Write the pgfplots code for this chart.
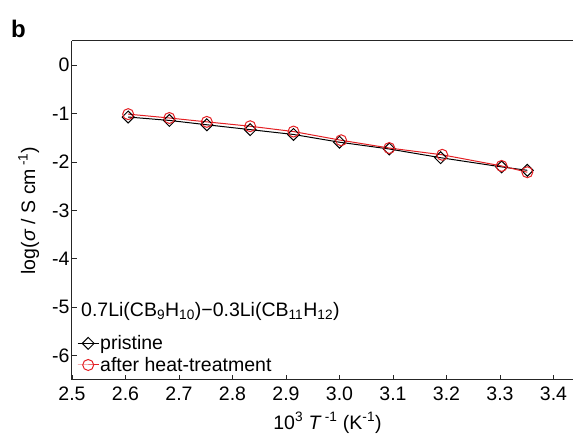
\documentclass[border=0pt]{standalone}
\usepackage{fontspec}
\setmainfont{Liberation Sans}
\usepackage{pgfplots}
\pgfplotsset{compat=1.18}

\definecolor{heat}{RGB}{228,32,36}

\newcommand{\chartfont}{\fontsize{19.5}{22}\selectfont}

\begin{document}
\begin{tikzpicture}
\begin{axis}[
  name=ax,
  scale only axis,
  width=501pt, height=339pt,
  xmin=2.5, xmax=3.4364,
  ymin=-6.5, ymax=0.5,
  axis x line*=bottom,
  axis y line*=left,
  axis line style={line width=1pt, black!85},
  tick align=inside,
  major tick length=5pt,
  tick style={line width=0.9pt, black!85},
  xtick={2.5,2.6,...,3.41},
  ytick={-6,-5,...,0},
  /pgf/number format/assume math mode=true,
  xticklabel={\pgfmathprintnumber[fixed,fixed zerofill,precision=1]{\tick}},
  yticklabel={\pgfmathprintnumber[fixed,precision=0]{\tick}},
  ticklabel style={font=\chartfont},
  xticklabel style={yshift=-3pt},
  yticklabel style={xshift=1pt},
  label style={font=\chartfont},
  xlabel={10\textsuperscript{3} \textit{T}\,\textsuperscript{-1} (K\textsuperscript{-1})},
  ylabel={log(\textit{σ} / S cm\,\textsuperscript{-1})},
  xlabel style={yshift=-5pt, xshift=5pt},
  ylabel style={yshift=6pt},
  legend style={draw=none, fill=none, at={(0,0)}, anchor=south west,
    xshift=5pt, yshift=6pt, font=\chartfont, row sep=4pt, inner sep=0pt,
    nodes={inner sep=1pt}},
  legend cell align=left,
  legend image code/.code={%
    \draw[mark repeat=2,mark phase=2,#1] plot coordinates {(0pt,0pt) (10.5pt,0pt) (21pt,0pt)};},
]
% upper frame line (no right-hand spine)
\draw[line width=1pt, black!85] (rel axis cs:0,1) -- (rel axis cs:1,1);

\addplot[black, line width=1pt, mark=square, mark size=4.2pt,
  mark options={rotate=45, line width=1pt, fill=none}]
  coordinates {
  (2.605,-1.07) (2.682,-1.14) (2.752,-1.23) (2.833,-1.33) (2.914,-1.43)
  (3.000,-1.59) (3.093,-1.73) (3.189,-1.91) (3.303,-2.10) (3.351,-2.17)};
\addlegendentry{pristine}

\addplot[heat, line width=1pt, mark=o, mark size=5.5pt,
  mark options={line width=1pt, fill=none}]
  coordinates {
  (2.605,-1.01) (2.682,-1.09) (2.752,-1.17) (2.833,-1.26) (2.914,-1.37)
  (3.003,-1.55) (3.093,-1.71) (3.192,-1.85) (3.303,-2.08) (3.351,-2.21)};
\addlegendentry{after heat-treatment}
\end{axis}

\node[anchor=west, font=\chartfont, inner sep=0pt] at ([xshift=9pt,yshift=69pt]ax.south west)
  {0.7Li(CB\textsubscript{9}H\textsubscript{10})−0.3Li(CB\textsubscript{11}H\textsubscript{12})};
\node[anchor=west, font=\fontsize{24}{27}\selectfont\bfseries, inner sep=0pt] at ([xshift=-61pt,yshift=12pt]ax.north west) {b};

\pgfresetboundingbox
\path[use as bounding box] ([xshift=-72pt,yshift=-54pt]ax.south west) rectangle ([yshift=41pt]ax.north east);
\end{tikzpicture}
\end{document}
